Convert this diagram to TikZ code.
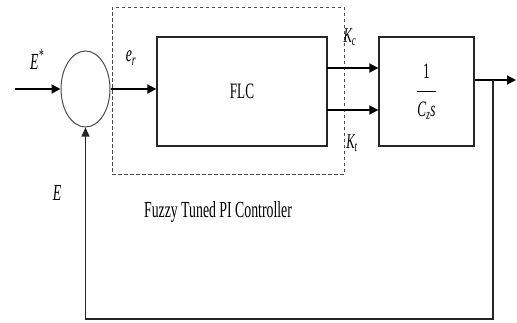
\documentclass[tikz,border=0pt]{standalone}
\usepackage{fontspec}
\setmainfont{Liberation Serif}[FakeStretch=0.6]
\usetikzlibrary{arrows.meta, positioning, shapes.geometric}

\begin{document}
\begin{tikzpicture}[x=1pt, y=-1pt,
    blk/.style={rectangle, draw=black!85, line width=1.3pt, inner sep=0pt,
                minimum height=109pt, font=\fontsize{22}{24}\selectfont},
    sumj/.style={ellipse, draw=black!70, line width=1pt, inner sep=0pt,
                 minimum width=49pt, minimum height=76pt},
    lbl/.style={font=\fontsize{23}{25}\selectfont\itshape, inner sep=0pt},
    arr/.style={-{Triangle[length=9pt, width=9pt]}, line width=1.8pt},
    fbarr/.style={-{Triangle[length=9pt, width=8pt]}, line width=1.2pt, black!85}
  ]
  \useasboundingbox (0,0) rectangle (517,322);

  % Controller frame
  \node[draw=black!70, dash pattern=on 3.5pt off 2.5pt, line width=0.9pt,
        minimum width=232pt, minimum height=167pt] (ctrl) at (228,90.5) {};
  \node[font=\fontsize{23}{25}\selectfont] (title) at (218,212)
        {Fuzzy Tuned PI Controller};

  % Blocks
  \node[sumj] (sum) at (85.5,89) {};
  \node[blk, minimum width=170pt] (flc) at (242,91.5) {FLC};
  \node[blk, minimum width=95pt] (plant) at (426.5,91.5)
        {$\displaystyle\frac{\raisebox{4pt}{1}}{\raisebox{-6pt}{\itshape C\textsubscript{z}s}}$};

  % Signal points
  \coordinate (in)   at (15,89);
  \coordinate (kcin) at (327,68);
  \coordinate (ktin) at (327,110);
  \coordinate (out)  at (516,80);
  \coordinate (br)   at (493,80);
  \coordinate (bot)  at (0,319);

  % Signals
  \draw[arr] (in) -- (sum);
  \draw[arr] (sum.east) -- (sum.east -| flc.west);
  \draw[arr] (kcin) -- (kcin -| plant.west);
  \draw[arr] (ktin) -- (ktin -| plant.west);
  \draw[arr] (plant.east |- out) -- (out);
  \draw[fbarr] (br) -- (br |- bot) -| (sum.south);

  % Labels
  \node[lbl] (estar) at (37,60) {E\textsuperscript{*}};
  \node[lbl] (er)    at (131,58) {e\textsubscript{r}};
  \node[lbl, font=\fontsize{21}{23}\selectfont\itshape] (kclbl) at (350,37) {K\textsubscript{c}};
  \node[lbl, font=\fontsize{21}{23}\selectfont\itshape] (ktlbl) at (352,143) {K\textsubscript{t}};
  \node[lbl] (elbl)  at (57,193) {E};
\end{tikzpicture}
\end{document}
